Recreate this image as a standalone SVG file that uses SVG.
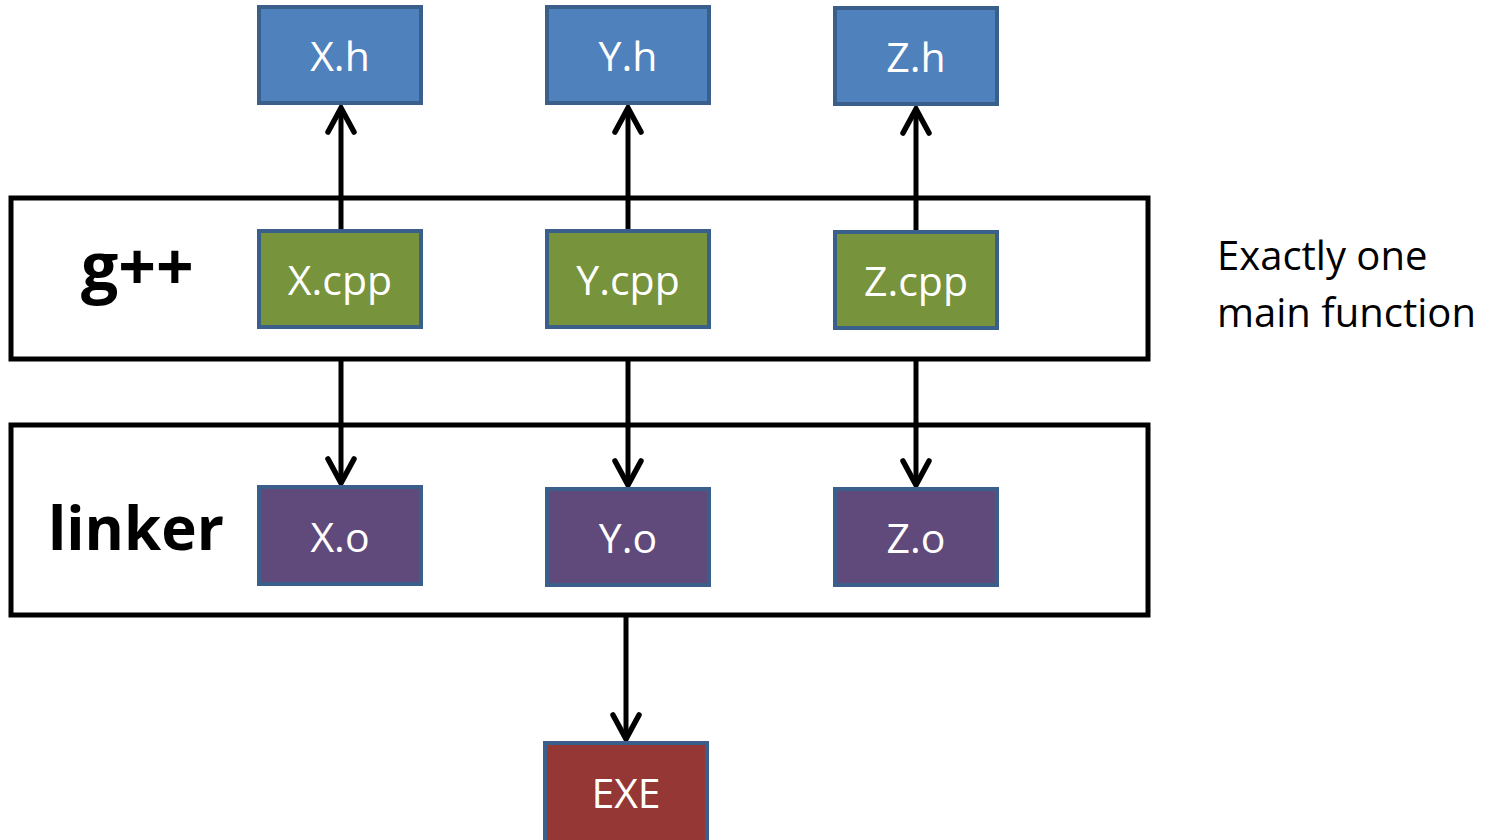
<svg xmlns="http://www.w3.org/2000/svg" width="1500" height="840" viewBox="0 0 1500 840">
<style>
.container{fill:#ffffff;stroke:#000000;stroke-width:5}
.node{stroke:#3a5f8b;stroke-width:4}
.h{fill:#4f81bd}
.cpp{fill:#77933c}
.o{fill:#604a7b}
.exe{fill:#953735}
.lbl{font-family:"Open Sans","Noto Sans",sans-serif;font-size:41px;fill:#ffffff;text-anchor:middle}
.tool{font-family:"Open Sans","Noto Sans",sans-serif;font-weight:bold;font-size:60px;fill:#000000}
.big{font-size:66px}
.note{font-family:"Open Sans","Noto Sans",sans-serif;font-size:40px;fill:#000000}
.conn{stroke:#000000;stroke-width:5;fill:none}
</style>
<defs>
<marker id="arr" viewBox="0 0 32 32" refX="27" refY="16" markerWidth="32" markerHeight="32" markerUnits="userSpaceOnUse" orient="auto">
<path d="M3,3 L27,16 L3,29" fill="none" stroke="#000000" stroke-width="5.5" stroke-linecap="round" stroke-linejoin="miter"/>
</marker>
</defs>
<rect width="1500" height="840" fill="#ffffff"/>
<g id="gpp">
<rect class="container" x="11" y="198" width="1137" height="161"/>
<text class="tool big" x="81" y="290">g++</text>
</g>
<g id="linker">
<rect class="container" x="11" y="425" width="1137" height="190"/>
<text class="tool" x="48" y="550">linker</text>
</g>
<g id="connectors">
<line class="conn" x1="341" y1="230" x2="341" y2="108" marker-end="url(#arr)"/>
<line class="conn" x1="628" y1="230" x2="628" y2="108" marker-end="url(#arr)"/>
<line class="conn" x1="916" y1="231" x2="916" y2="109" marker-end="url(#arr)"/>
<line class="conn" x1="341" y1="359" x2="341" y2="483" marker-end="url(#arr)"/>
<line class="conn" x1="628" y1="359" x2="628" y2="485" marker-end="url(#arr)"/>
<line class="conn" x1="916" y1="359" x2="916" y2="485" marker-end="url(#arr)"/>
<line class="conn" x1="626" y1="615" x2="626" y2="739" marker-end="url(#arr)"/>
</g>
<g id="Xh"><rect class="node h" x="259" y="7" width="162" height="96"/><text class="lbl" x="340" y="71">X.h</text></g>
<g id="Yh"><rect class="node h" x="547" y="7" width="162" height="96"/><text class="lbl" x="628" y="71">Y.h</text></g>
<g id="Zh"><rect class="node h" x="835" y="8" width="162" height="96"/><text class="lbl" x="916" y="72">Z.h</text></g>
<g id="Xcpp"><rect class="node cpp" x="259" y="231" width="162" height="96"/><text class="lbl" x="340" y="295">X.cpp</text></g>
<g id="Ycpp"><rect class="node cpp" x="547" y="231" width="162" height="96"/><text class="lbl" x="628" y="295">Y.cpp</text></g>
<g id="Zcpp"><rect class="node cpp" x="835" y="232" width="162" height="96"/><text class="lbl" x="916" y="296">Z.cpp</text></g>
<g id="Xo"><rect class="node o" x="259" y="487" width="162" height="97"/><text class="lbl" x="340" y="552">X.o</text></g>
<g id="Yo"><rect class="node o" x="547" y="489" width="162" height="96"/><text class="lbl" x="628" y="553">Y.o</text></g>
<g id="Zo"><rect class="node o" x="835" y="489" width="162" height="96"/><text class="lbl" x="916" y="553">Z.o</text></g>
<g id="EXE"><rect class="node exe" x="545" y="743" width="162" height="100"/><text class="lbl" x="626" y="808">EXE</text></g>
<g id="note">
<text class="note" x="1217" y="270">Exactly one</text>
<text class="note" x="1217" y="327">main function</text>
</g>
</svg>
